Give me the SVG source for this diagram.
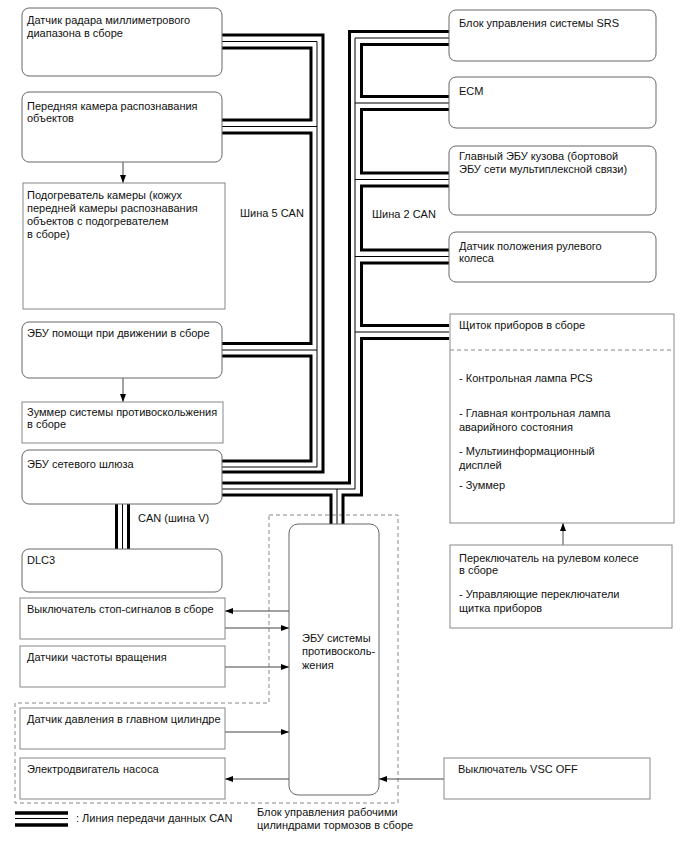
<svg xmlns="http://www.w3.org/2000/svg" width="688" height="852" viewBox="0 0 688 852">
<style>
text{font-family:"Liberation Sans",Arial,sans-serif;font-size:11px;fill:#111}
.rb{fill:#fff;stroke:#666;stroke-width:1}
.sb{fill:#fff;stroke:#888;stroke-width:1}
.tk{fill:none;stroke:#000;stroke-width:3;stroke-linejoin:miter}
.tn{fill:none;stroke:#000;stroke-width:1}
.ar{fill:none;stroke:#444;stroke-width:1;marker-end:url(#ah)}
.ds{fill:none;stroke:#888;stroke-width:1;stroke-dasharray:4,3}
</style>
<defs>
<marker id="ah" markerWidth="8" markerHeight="6" refX="8" refY="3" orient="auto" markerUnits="userSpaceOnUse"><path d="M0,0 L8,3 L0,6 z" fill="#000"/></marker>
</defs>
<path id="brake-unit-frame" class="ds" d="M269,515 H398 V803 H15 V703 H269 Z"/>
<g id="connectors">
<path class="tk" d="M222,35 H323 V472 H222"/>
<path class="tn" d="M317,41.5 V467 M222,41.5 H317 M222,126.5 H317 M222,350 H317 M222,467 H317"/>
<path class="tk" d="M222,48 H311 V120 H222 M222,133 H311 V343.5 H222 M222,356 H311 V461 H222"/>
<path class="tk" d="M449,31.5 H349.5 V483 H222"/>
<path class="tn" d="M355,38 V489 M355,38 H449 M355,103 H449 M355,179.5 H449 M355,256.5 H449 M355,332 H449 M222,489 H355 M337,489 V524"/>
<path class="tk" d="M449,44.5 H361.5 V96.5 H449 M449,109.5 H361.5 V173 H449 M449,186 H361.5 V250 H449 M449,263 H361.5 V325.5 H449 M449,338.5 H361.5 V495 H343 V524"/>
<path class="tk" d="M222,495 H331 V524"/>
<path class="tk" d="M116.5,504 V549 M128.5,504 V549"/>
<path class="tn" d="M122.5,504 V549"/>
<path class="ar" d="M123,162 V183"/>
<path class="ar" d="M123,378 V402"/>
<path class="ar" d="M563,545 V523"/>
<path class="ar" d="M289,611 H225"/>
<path class="ar" d="M225,628 H289"/>
<path class="ar" d="M225,667 H289"/>
<path class="ar" d="M225,732 H289"/>
<path class="ar" d="M289,779 H225"/>
<path class="ar" d="M444,779 H379"/>
</g>
<g id="radar"><rect class="rb" x="22" y="8" width="200" height="68" rx="7"/><text x="27" y="24">Датчик радара миллиметрового</text><text x="27" y="37">диапазона в сборе</text></g>
<g id="camera"><rect class="rb" x="22" y="92" width="200" height="70" rx="7"/><text x="27" y="110">Передняя камера распознавания</text><text x="27" y="122">объектов</text></g>
<g id="heater"><rect class="sb" x="23" y="183" width="202" height="126"/><text x="27" y="199">Подогреватель камеры (кожух</text><text x="27" y="212">передней камеры распознавания</text><text x="27" y="225">объектов с подогревателем</text><text x="27" y="238">в сборе)</text></g>
<g id="drive-assist-ecu"><rect class="rb" x="22" y="322" width="200" height="56" rx="7"/><text x="27" y="337">ЭБУ помощи при движении в сборе</text></g>
<g id="buzzer"><rect class="sb" x="22" y="402" width="201" height="41"/><text x="27" y="416">Зуммер системы противоскольжения</text><text x="27" y="428">в сборе</text></g>
<g id="gateway"><rect class="rb" x="22" y="450" width="200" height="54" rx="7"/><text x="27" y="468">ЭБУ сетевого шлюза</text></g>
<g id="dlc3"><rect class="rb" x="22" y="549" width="200" height="43" rx="7"/><text x="27" y="564">DLC3</text></g>
<g id="stop-switch"><rect class="sb" x="20" y="598" width="205" height="41"/><text x="27" y="613">Выключатель стоп-сигналов в сборе</text></g>
<g id="speed-sensors"><rect class="sb" x="20" y="646" width="205" height="41"/><text x="27" y="661">Датчики частоты вращения</text></g>
<g id="pressure-sensor"><rect class="sb" x="20" y="708" width="205" height="41"/><text x="27" y="723">Датчик давления в главном цилиндре</text></g>
<g id="pump-motor"><rect class="sb" x="20" y="758" width="205" height="41"/><text x="27" y="773">Электродвигатель насоса</text></g>
<g id="skid-ecu"><rect class="rb" x="289" y="524" width="90" height="271" rx="9"/><text x="302" y="642">ЭБУ системы</text><text x="302" y="655">противосколь-</text><text x="302" y="669">жения</text></g>
<g id="srs"><rect class="rb" x="449" y="10" width="207" height="51" rx="7"/><text x="459" y="27">Блок управления системы SRS</text></g>
<g id="ecm"><rect class="rb" x="449" y="77" width="207" height="51" rx="7"/><text x="459" y="95">ECM</text></g>
<g id="body-ecu"><rect class="rb" x="449" y="146" width="207" height="69" rx="7"/><text x="459" y="160">Главный ЭБУ кузова (бортовой</text><text x="459" y="173">ЭБУ сети мультиплексной связи)</text></g>
<g id="steering-sensor"><rect class="rb" x="449" y="232" width="207" height="50" rx="7"/><text x="459" y="250">Датчик положения рулевого</text><text x="459" y="262">колеса</text></g>
<g id="meter"><rect class="sb" x="450" y="314" width="224" height="209"/><path class="ds" d="M450,350 H674" stroke="#999"/><text x="459" y="329">Щиток приборов в сборе</text><text x="459" y="382">- Контрольная лампа PCS</text><text x="459" y="417">- Главная контрольная лампа</text><text x="459" y="431">аварийного состояния</text><text x="459" y="455">- Мультиинформационный</text><text x="459" y="469">дисплей</text><text x="459" y="489">- Зуммер</text></g>
<g id="steering-switch"><rect class="sb" x="450" y="545" width="222" height="83"/><text x="459" y="562">Переключатель на рулевом колесе</text><text x="459" y="574">в сборе</text><text x="459" y="598">- Управляющие переключатели</text><text x="459" y="612">щитка приборов</text></g>
<g id="vsc-off"><rect class="sb" x="444" y="758" width="206" height="41"/><text x="458" y="773">Выключатель VSC OFF</text></g>
<g id="labels">
<text x="240" y="217">Шина 5 CAN</text>
<text x="372" y="218">Шина 2 CAN</text>
<text x="138" y="522">CAN (шина V)</text>
<text x="257" y="816">Блок управления рабочими</text>
<text x="257" y="829">цилиндрами тормозов в сборе</text>
</g>
<g id="legend">
<path class="tk" d="M15,813 H68 M15,825 H68" style="stroke-width:3.5"/>
<path class="tn" d="M15,818.5 H68"/>
<text x="76" y="822">: Линия передачи данных CAN</text>
</g>
</svg>
